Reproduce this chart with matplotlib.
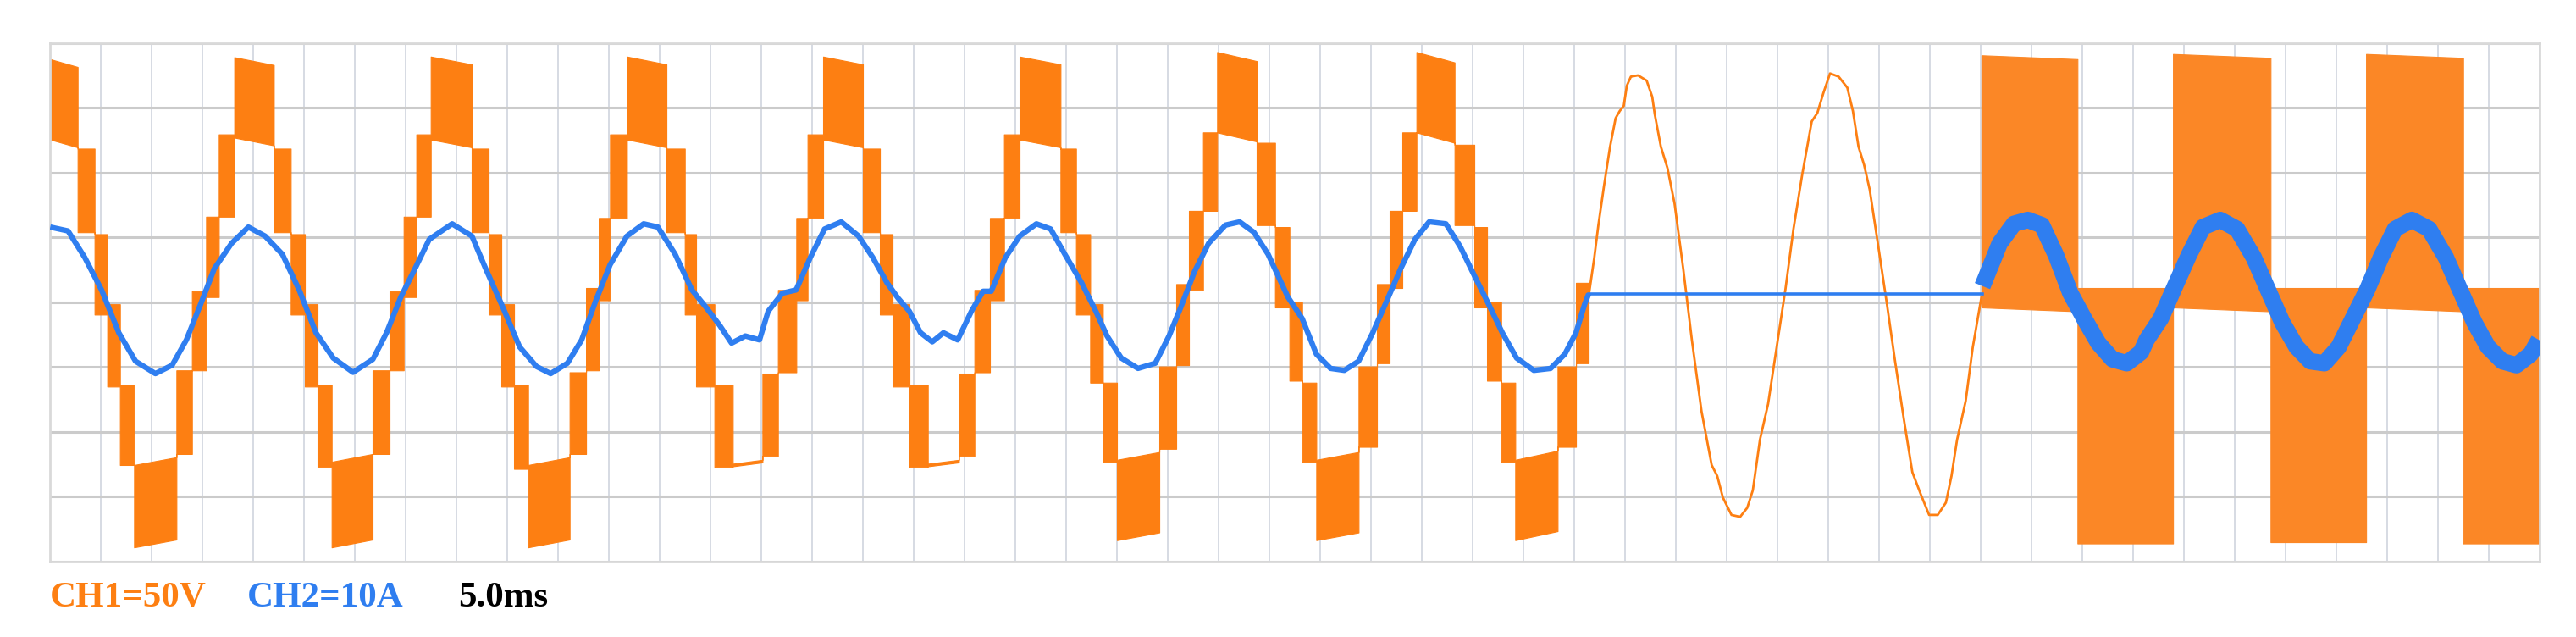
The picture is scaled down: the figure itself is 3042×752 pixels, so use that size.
import matplotlib
matplotlib.use("Agg")
import matplotlib.pyplot as plt

# x in screen divisions (5.0 ms each), y in vertical divisions
orange = "#fd7f12"
orangeLight = "#fb8726"
blue = "#2f7ef0"

# multilevel staircase voltage, one band per switching level pair
stairEdges = [0.000, 0.540, 0.873, 1.123, 1.373, 1.651, 2.484, 2.790, 3.068, 3.318,
              3.623, 4.401, 4.734, 5.012, 5.262, 5.540, 6.345, 6.679, 6.957, 7.206,
              7.490, 8.295, 8.629, 8.879, 9.129, 9.406, 10.223, 10.546, 10.796, 11.018,
              11.351, 12.129, 12.490, 12.712, 13.073, 13.434, 14.018, 14.323, 14.684, 14.906,
              15.212, 15.995, 16.329, 16.579, 16.912, 17.273, 17.884, 18.190, 18.495, 18.773,
              19.079, 19.884, 20.190, 20.468, 20.718, 20.995, 21.829, 22.162, 22.412, 22.690,
              22.967, 23.745, 24.107, 24.390, 24.640, 24.918, 25.751, 26.112, 26.362, 26.612,
              26.890, 27.640, 28.029, 28.279, 28.557, 28.834, 29.668, 30.029, 30.279]
stairHi = [3.75, 2.37, 1.05, -0.03, -1.27, -2.51, -1.05, 0.17, 1.32, 2.59,
           3.78, 2.37, 1.05, -0.03, -1.27, -2.46, -1.05, 0.17, 1.32, 2.59,
           3.79, 2.37, 1.05, -0.03, -1.27, -2.51, -1.08, 0.22, 1.30, 2.59,
           3.79, 2.37, 1.05, -0.03, -1.27, -2.49, -1.10, 0.19, 1.30, 2.59,
           3.79, 2.37, 1.05, -0.03, -1.27, -2.49, -1.10, 0.19, 1.30, 2.59,
           3.79, 2.37, 1.05, -0.03, -1.24, -2.43, -0.99, 0.28, 1.41, 2.62,
           3.86, 2.46, 1.16, 0.00, -1.24, -2.43, -0.99, 0.28, 1.41, 2.62,
           3.86, 2.43, 1.16, 0.00, -1.24, -2.43, -0.99, 0.30]
stairLo = [2.51, 1.08, -0.19, -1.30, -2.51, -3.78, -2.34, -1.05, 0.08, 1.32,
           2.54, 1.08, -0.19, -1.30, -2.54, -3.78, -2.34, -1.05, 0.08, 1.32,
           2.51, 1.08, -0.19, -1.30, -2.57, -3.78, -2.34, -1.05, 0.03, 1.30,
           2.51, 1.08, -0.19, -1.30, -2.54, -2.53, -2.37, -1.08, 0.03, 1.30,
           2.51, 1.08, -0.19, -1.30, -2.54, -2.53, -2.37, -1.08, 0.03, 1.30,
           2.51, 1.08, -0.19, -1.24, -2.46, -3.67, -2.26, -0.97, 0.19, 1.41,
           2.62, 1.19, -0.08, -1.21, -2.46, -3.67, -2.23, -0.94, 0.22, 1.41,
           2.62, 1.19, -0.08, -1.21, -2.46, -3.67, -2.23, -0.94]
stairTilt = [-0.12, 0, 0, 0, 0, 0.12, 0, 0, 0, 0,
             -0.12, 0, 0, 0, 0, 0.12, 0, 0, 0, 0,
             -0.12, 0, 0, 0, 0, 0.12, 0, 0, 0, 0,
             -0.12, 0, 0, 0, 0, 0.06, 0, 0, 0, 0,
             -0.12, 0, 0, 0, 0, 0.06, 0, 0, 0, 0,
             -0.12, 0, 0, 0, 0, 0.12, 0, 0, 0, 0,
             -0.14, 0, 0, 0, 0, 0.12, 0, 0, 0, 0,
             -0.16, 0, 0, 0, 0, 0.14, 0, 0]

# unfiltered sine voltage after the inverter stops
sineT = [30.28, 30.39, 30.47, 30.58, 30.70, 30.81, 30.89, 30.97, 31.03, 31.11,
         31.25, 31.42, 31.53, 31.58, 31.70, 31.83, 31.97, 32.14, 32.31, 32.50,
         32.70, 32.81, 32.92, 33.09, 33.26, 33.40, 33.51, 33.65, 33.81, 33.98,
         34.15, 34.31, 34.48, 34.67, 34.78, 34.90, 35.03, 35.20, 35.37, 35.48,
         35.59, 35.70, 35.81, 35.98, 36.15, 36.31, 36.48, 36.65, 36.81, 36.98,
         37.15, 37.31, 37.42, 37.53, 37.70, 37.84, 38.01]
sineV = [0.10, 0.69, 1.19, 1.79, 2.40, 2.84, 2.95, 3.03, 3.34, 3.48,
         3.50, 3.42, 3.17, 2.90, 2.40, 2.07, 1.52, 0.52, -0.58, -1.68,
         -2.51, -2.68, -3.01, -3.28, -3.31, -3.17, -2.90, -2.12, -1.57, -0.69,
         0.19, 1.13, 1.96, 2.79, 2.92, 3.23, 3.53, 3.48, 3.31, 2.95,
         2.40, 2.12, 1.74, 0.86, -0.03, -0.91, -1.79, -2.62, -2.95, -3.28,
         -3.28, -3.09, -2.68, -2.12, -1.52, -0.69, 0.08]

# two-level square PWM voltage
squareEdges = [38.01, 39.90, 41.78, 43.70, 45.58, 47.49, 49.00]
squareHi = [3.81, 0.22, 3.83, 0.22, 3.83, 0.22]
squareLo = [-0.08, -3.72, -0.08, -3.70, -0.08, -3.72]
squareTilt = [-0.06, 0, -0.06, 0, -0.06, 0]

# current, CH2
curT1 = [0.00, 0.35, 0.68, 1.01, 1.35, 1.68, 2.07, 2.40, 2.68, 2.96,
         3.23, 3.57, 3.90, 4.23, 4.57, 4.90, 5.23, 5.57, 5.96, 6.35,
         6.62, 6.90, 7.18, 7.46, 7.91, 8.30, 8.57, 8.91, 9.24, 9.57,
         9.85, 10.18, 10.46, 10.74, 11.02, 11.35, 11.68, 11.96, 12.30, 12.63,
         12.91, 13.18, 13.41, 13.68, 13.96, 14.13, 14.41, 14.68, 14.96, 15.24,
         15.57, 15.91, 16.19, 16.47, 16.69, 16.91, 17.13, 17.36, 17.58, 17.86,
         18.13, 18.36, 18.52, 18.80, 19.08, 19.41, 19.69, 19.97, 20.30, 20.58,
         20.80, 21.08, 21.41, 21.75, 22.02, 22.25, 22.52, 22.80, 23.13, 23.41,
         23.69, 23.97, 24.36, 24.64, 24.92, 25.20, 25.47, 25.75, 26.03, 26.31,
         26.58, 26.86, 27.14, 27.47, 27.75, 28.03, 28.31, 28.58, 28.86, 29.20,
         29.53, 29.81, 30.03, 30.20, 30.28]
curV1 = [1.16, 1.10, 0.69, 0.19, -0.47, -0.91, -1.10, -0.97, -0.58, -0.03,
         0.52, 0.91, 1.16, 1.02, 0.74, 0.19, -0.47, -0.86, -1.08, -0.88,
         -0.47, 0.08, 0.52, 0.97, 1.21, 1.02, 0.52, -0.08, -0.69, -0.99,
         -1.10, -0.94, -0.58, 0.03, 0.58, 1.02, 1.21, 1.16, 0.74, 0.19,
         -0.08, -0.36, -0.63, -0.52, -0.58, -0.14, 0.14, 0.19, 0.69, 1.13,
         1.24, 1.02, 0.69, 0.30, 0.06, -0.14, -0.47, -0.61, -0.47, -0.58,
         -0.14, 0.17, 0.17, 0.69, 1.02, 1.21, 1.13, 0.74, 0.30, -0.14,
         -0.52, -0.86, -1.02, -0.94, -0.52, -0.08, 0.47, 0.91, 1.19, 1.24,
         1.08, 0.74, 0.08, -0.25, -0.80, -1.02, -1.05, -0.91, -0.47, 0.03,
         0.52, 0.97, 1.24, 1.21, 0.86, 0.41, -0.03, -0.47, -0.86, -1.05,
         -1.02, -0.80, -0.47, -0.03, 0.13]
curT2 = [30.28, 38.03]
curV2 = [0.13, 0.13]
curT3 = [38.03, 38.37, 38.65, 38.92, 39.20, 39.48, 39.76, 40.03, 40.31, 40.59,
         40.87, 41.15, 41.26, 41.54, 41.82, 42.10, 42.37, 42.71, 43.04, 43.37,
         43.65, 43.93, 44.21, 44.48, 44.76, 45.04, 45.32, 45.60, 45.87, 46.15,
         46.48, 46.82, 47.15, 47.43, 47.71, 47.98, 48.26, 48.54, 48.82, 48.98]
curV3 = [0.25, 0.91, 1.21, 1.27, 1.19, 0.72, 0.14, -0.25, -0.63, -0.88,
         -0.94, -0.77, -0.58, -0.25, 0.25, 0.74, 1.16, 1.27, 1.13, 0.69,
         0.19, -0.31, -0.69, -0.91, -0.94, -0.69, -0.25, 0.19, 0.69, 1.13,
         1.27, 1.13, 0.69, 0.19, -0.31, -0.69, -0.91, -0.97, -0.80, -0.58]

labels = ["CH1=50V", "CH2=10A", "5.0ms"]
labelColors = [orange, blue, "black"]


def bandOutline(edges, hi, lo, tilt):
    xs, top, bot = [], [], []
    for i in range(len(hi)):
        xs += [edges[i], edges[i + 1]]
        top += [hi[i], hi[i] + tilt[i]]
        bot += [lo[i], lo[i] + tilt[i]]
    return xs, top, bot


fig = plt.figure(figsize=(30.42, 7.52), dpi=100)
ax = fig.add_axes([59.3 / 3042, 89 / 752, 2940 / 3042, 612.3 / 752])
ax.set_xlim(0, 49)
ax.set_ylim(-4, 4)
ax.set_xticks(range(0, 50))
ax.set_yticks(range(-4, 5))
ax.tick_params(length=0, labelbottom=False, labelleft=False)
ax.xaxis.grid(True, color="#d6dbe3", linewidth=1.4)
ax.yaxis.grid(True, color="#cbcbcb", linewidth=2.2)
ax.set_axisbelow(True)
for spine in ax.spines.values():
    spine.set_color("#d9d9d9")
    spine.set_linewidth(2.0)

xs, top, bot = bandOutline(stairEdges, stairHi, stairLo, stairTilt)
ax.fill_between(xs, bot, top, color=orange, linewidth=0.8, zorder=2)
ax.plot(sineT, sineV, color=orange, linewidth=2.0, zorder=2)
xs, top, bot = bandOutline(squareEdges, squareHi, squareLo, squareTilt)
ax.fill_between(xs, bot, top, color=orangeLight, linewidth=0.8, zorder=2)

ax.plot(curT1, curV1, color=blue, linewidth=4.6, zorder=3,
        solid_joinstyle="round", solid_capstyle="butt")
ax.plot(curT2, curV2, color=blue, linewidth=2.6, zorder=3)
ax.plot(curT3, curV3, color=blue, linewidth=14, zorder=3,
        solid_joinstyle="round", solid_capstyle="butt")

labelX = [59 / 3042, 292 / 3042, 541 / 3042]
for text, color, x in zip(labels, labelColors, labelX):
    fig.text(x, 1 - 706 / 752, text, color=color, fontsize=31, fontweight="bold",
             family="Liberation Serif", ha="left", va="center")

fig.savefig("out.png", dpi=100)
